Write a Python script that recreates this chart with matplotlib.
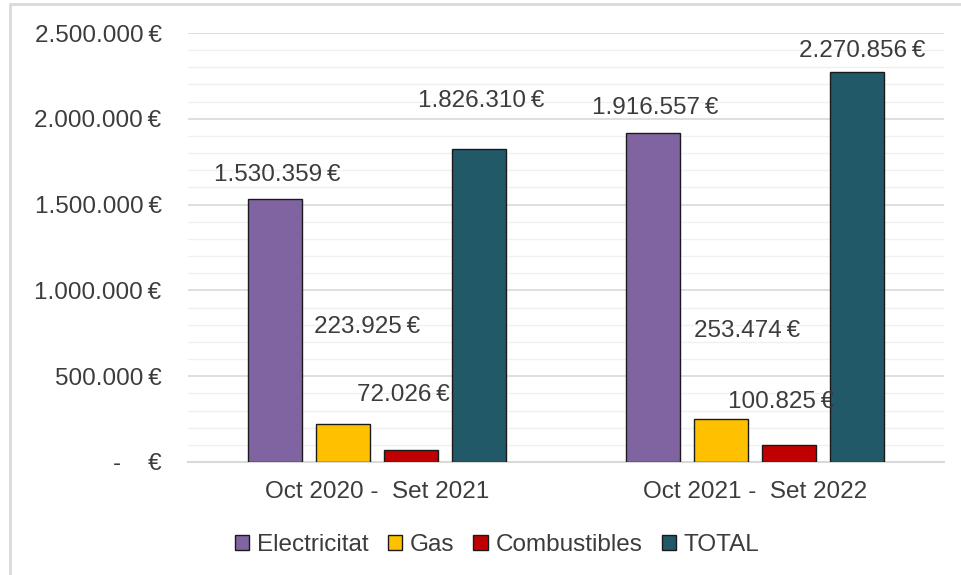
import matplotlib.pyplot as plt
import matplotlib.patches as mpatches
from matplotlib.ticker import MultipleLocator, FuncFormatter
import numpy as np

plt.rcParams['font.family'] = ['Liberation Sans', 'DejaVu Sans']

periods = ["Oct 2020 -  Set 2021", "Oct 2021 -  Set 2022"]
series = ["Electricitat", "Gas", "Combustibles", "TOTAL"]
electricitat = [1530359, 1916557]
gas = [223925, 253474]
combustibles = [72026, 100825]
total = [1826310, 2270856]

colors = ["#8064A2", "#FFC000", "#C00000", "#215968"]
# label offsets (px) relative to top centre of each bar, as placed in the original
label_offsets = [
    [(2, 24), (2.5, 25)],
    [(24.5, 97), (26.5, 88)],
    [(-7.5, 55), (-8, 43)],
    [(2, 48), (5.5, 21)],
]

txt = "#3c3c3c"
fs = 17.5

def euro(v, pos=None):
    if v == 0:
        return "-    €"
    return f"{v:,.0f}".replace(",", ".") + "\u2009€"

fig = plt.figure(figsize=(9.61, 5.75), dpi=100)
ax = fig.add_axes([188 / 961, 1 - 462 / 575, 756 / 961, 429 / 575])

# chart-area border
fig.patches.append(mpatches.Rectangle((10 / 961, -0.05), 1.0, 1 - 4 / 575 + 0.05,
                                      transform=fig.transFigure, fill=False,
                                      edgecolor="#d9d9d9", linewidth=2))

x = np.arange(len(periods))
width = 54 / 378
step = 68 / 378
data = [electricitat, gas, combustibles, total]
for i, (name, vals) in enumerate(zip(series, data)):
    pos = x + (i - 1.5) * step
    ax.bar(pos, vals, width, color=colors[i], edgecolor="#1a1a1a",
           linewidth=1, label=name, zorder=3)
    for j, v in enumerate(vals):
        dx, dy = label_offsets[i][j]
        ax.annotate(euro(v), (pos[j], v), xytext=(dx * 0.72, dy * 0.72),
                    textcoords="offset points", ha="center", va="center",
                    fontsize=fs, color=txt, zorder=4)

ax.set_xlim(-0.5, 1.5)
ax.set_ylim(0, 2500000)
ax.yaxis.set_major_locator(MultipleLocator(500000))
ax.yaxis.set_minor_locator(MultipleLocator(100000))
ax.yaxis.set_major_formatter(FuncFormatter(euro))
ax.grid(axis="y", which="major", color="#d9d9d9", linewidth=1.2, zorder=0)
ax.grid(axis="y", which="minor", color="#f0f0f0", linewidth=1.0, zorder=0)
ax.set_axisbelow(True)
for s in ["top", "right", "left"]:
    ax.spines[s].set_visible(False)
ax.spines["bottom"].set_color("#d9d9d9")
ax.spines["bottom"].set_linewidth(1.5)
ax.set_xticks(x)
ax.set_xticklabels(periods)
ax.tick_params(axis="both", which="both", length=0, labelsize=fs, labelcolor=txt)
ax.tick_params(axis="y", pad=19)
ax.tick_params(axis="x", pad=14)

leg = fig.legend(loc="center", bbox_to_anchor=(497 / 961, 1 - 545 / 575), ncol=4,
                 frameon=False, fontsize=fs, handlelength=0.6, handleheight=0.6,
                 handletextpad=0.3, columnspacing=0.8, borderaxespad=0)
for t in leg.get_texts():
    t.set_color(txt)

fig.savefig("out.png", dpi=100)
